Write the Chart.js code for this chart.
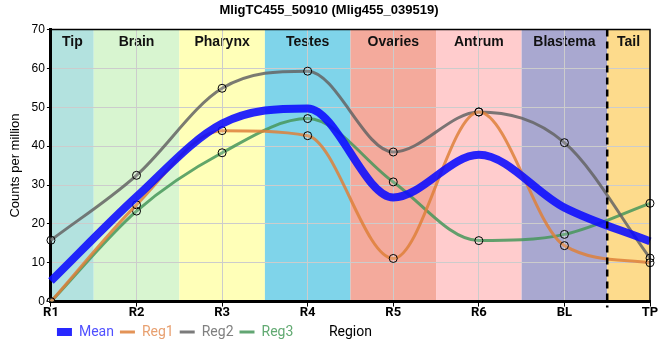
<!DOCTYPE html>
<html lang="en">
<head>
    <meta charset="UTF-8">
    <title>MligTC455_50910</title>
    <script src="https://cdn.jsdelivr.net/npm/chart.js@4/dist/chart.umd.min.js"></script>
    <style>
        body { margin: 0; background: #fff; }
    </style>
</head>
<body>
    <canvas id="myChart" width="660" height="360"></canvas>
    <script>
        // categories along the body axis
        const regions = ['R1', 'R2', 'R3', 'R4', 'R5', 'R6', 'BL', 'TP'];
        // tissue bands behind the plot (one per category)
        const bandNames = ['Tip', 'Brain', 'Pharynx', 'Testes', 'Ovaries', 'Antrum', 'Blastema', 'Tail'];
        const bandColors = ['#b3e2df', '#d8f5d0', '#ffffb8', '#7fd4ea', '#f4aa9c', '#ffcccd', '#a9a8d0', '#fddb8c'];

        // series values (counts per million)
        const meanVals = [5.3, 27, 45.8, 49.7, 26.8, 37.8, 24.2, 15.5];
        const reg1Vals = [0, 24.9, 44.0, 42.7, 11.1, 48.8, 14.4, 10.0];
        const reg2Vals = [15.8, 32.5, 54.9, 59.3, 38.5, 48.8, 40.9, 11.2];
        const reg3Vals = [0, 23.3, 38.3, 47.1, 30.8, 15.7, 17.3, 25.3];

        const yTicks = [0, 10, 20, 30, 40, 50, 60, 70];

        // background bands + labels, drawn before grid
        const bandPlugin = {
            id: 'bands',
            afterLayout(chart) {
                // legend sits on the same row as the x axis title
                chart.legend.top -= 2;
                chart.legend.bottom -= 2;
            },
            beforeDraw(chart) {
                const { ctx, chartArea } = chart;
                const x = chart.scales.x;
                ctx.save();
                bandNames.forEach((name, i) => {
                    let x0 = i === 0 ? chartArea.left : x.getPixelForValue(i - 0.5);
                    let x1 = i === bandNames.length - 1 ? chartArea.right : x.getPixelForValue(i + 0.5);
                    ctx.fillStyle = bandColors[i];
                    ctx.fillRect(x0, chartArea.top, x1 - x0, chartArea.bottom - chartArea.top);
                    ctx.fillStyle = '#111';
                    ctx.font = 'bold 14px "Liberation Sans", Arial, sans-serif';
                    ctx.textAlign = 'center';
                    ctx.textBaseline = 'middle';
                    ctx.fillText(name, (x0 + x1) / 2, chartArea.top + 13);
                });
                ctx.restore();
            },
            afterDatasetsDraw(chart) {
                const { ctx, chartArea } = chart;
                const x = chart.scales.x;
                const xd = x.getPixelForValue(regions.length - 1.5);
                ctx.save();
                ctx.strokeStyle = '#000';
                ctx.lineWidth = 2.5;
                ctx.setLineDash([7, 5]);
                ctx.beginPath();
                ctx.moveTo(xd, chartArea.top);
                ctx.lineTo(xd, chartArea.bottom + 6);
                ctx.stroke();
                // thin frame top and right
                ctx.setLineDash([]);
                ctx.lineWidth = 1.5;
                ctx.beginPath();
                ctx.moveTo(chartArea.left, chartArea.top);
                ctx.lineTo(chartArea.right, chartArea.top);
                ctx.lineTo(chartArea.right, chartArea.bottom);
                ctx.stroke();
                ctx.restore();
            }
        };

        function series(label, values, color, width, marks, order) {
            return {
                label: label,
                data: values,
                borderColor: color,
                backgroundColor: color,
                borderWidth: width,
                fill: false,
                cubicInterpolationMode: 'monotone',
                pointRadius: marks ? 4 : 0,
                pointBorderColor: '#000',
                pointBorderWidth: 1,
                pointBackgroundColor: 'rgba(255,255,255,0.15)',
                order: order
            };
        }

        const legendColors = ['#5050ff', '#e8a070', '#808080', '#62aa72'];

        const config = {
            type: 'line',
            data: {
                labels: regions,
                datasets: [
                    series('Mean', meanVals, 'rgba(10,10,255,0.88)', 8, false, 0),
                    series('Reg1', reg1Vals, 'rgba(222,128,58,0.85)', 3, true, 1),
                    series('Reg2', reg2Vals, 'rgba(100,100,100,0.85)', 3, true, 2),
                    series('Reg3', reg3Vals, 'rgba(70,150,90,0.85)', 3, true, 3)
                ]
            },
            options: {
                responsive: false,
                animation: false,
                layout: { padding: { left: 8, right: 10, top: 0, bottom: 9 } },
                plugins: {
                    title: {
                        display: true,
                        text: 'MligTC455_50910 (Mlig455_039519)',
                        color: '#000',
                        font: { family: '"Liberation Sans", Arial, sans-serif', size: 13, weight: 'bold' },
                        padding: { top: 3, bottom: 11 }
                    },
                    legend: {
                        position: 'bottom',
                        align: 'start',
                        fullSize: false,
                        labels: {
                            usePointStyle: true,
                            pointStyle: 'line',
                            pointStyleWidth: 15,
                            boxHeight: 8,
                            padding: 6,
                            font: { family: 'Roboto, sans-serif', size: 14 },
                            generateLabels(chart) {
                                const items = Chart.defaults.plugins.legend.labels.generateLabels(chart);
                                items.forEach((it, i) => {
                                    const ds = chart.data.datasets[it.datasetIndex];
                                    it.fontColor = legendColors[i];
                                    it.pointStyle = 'line';
                                    it.strokeStyle = ds.borderColor;
                                    it.lineWidth = ds.borderWidth;
                                });
                                return items;
                            }
                        }
                    },
                    tooltip: { enabled: false }
                },
                scales: {
                    x: {
                        grid: { color: '#cccccc', tickColor: '#000', tickLength: 5 },
                        border: { color: '#000', width: 3 },
                        ticks: {
                            color: '#000',
                            padding: -2,
                            font: { family: 'Roboto, sans-serif', size: 13, weight: 'bold' }
                        },
                        title: {
                            display: true,
                            text: 'Region',
                            color: '#000',
                            font: { family: 'Roboto, sans-serif', size: 14 },
                            padding: { top: 6, bottom: -20 }
                        }
                    },
                    y: {
                        min: 0,
                        max: 70,
                        afterBuildTicks(scale) {
                            scale.ticks = yTicks.map(v => ({ value: v }));
                        },
                        grid: { color: '#cccccc', tickColor: '#000', tickLength: 4 },
                        border: { color: '#000', width: 3 },
                        ticks: {
                            color: '#000',
                            padding: 2,
                            font: { family: '"Liberation Sans", Arial, sans-serif', size: 12 }
                        },
                        title: {
                            display: true,
                            text: 'Counts per million',
                            color: '#000',
                            font: { family: '"Liberation Sans", Arial, sans-serif', size: 13 },
                            padding: { top: 0, bottom: 6 }
                        }
                    }
                }
            },
            plugins: [bandPlugin]
        };

        const myChart = new Chart(document.getElementById('myChart'), config);
    </script>
</body>
</html>
